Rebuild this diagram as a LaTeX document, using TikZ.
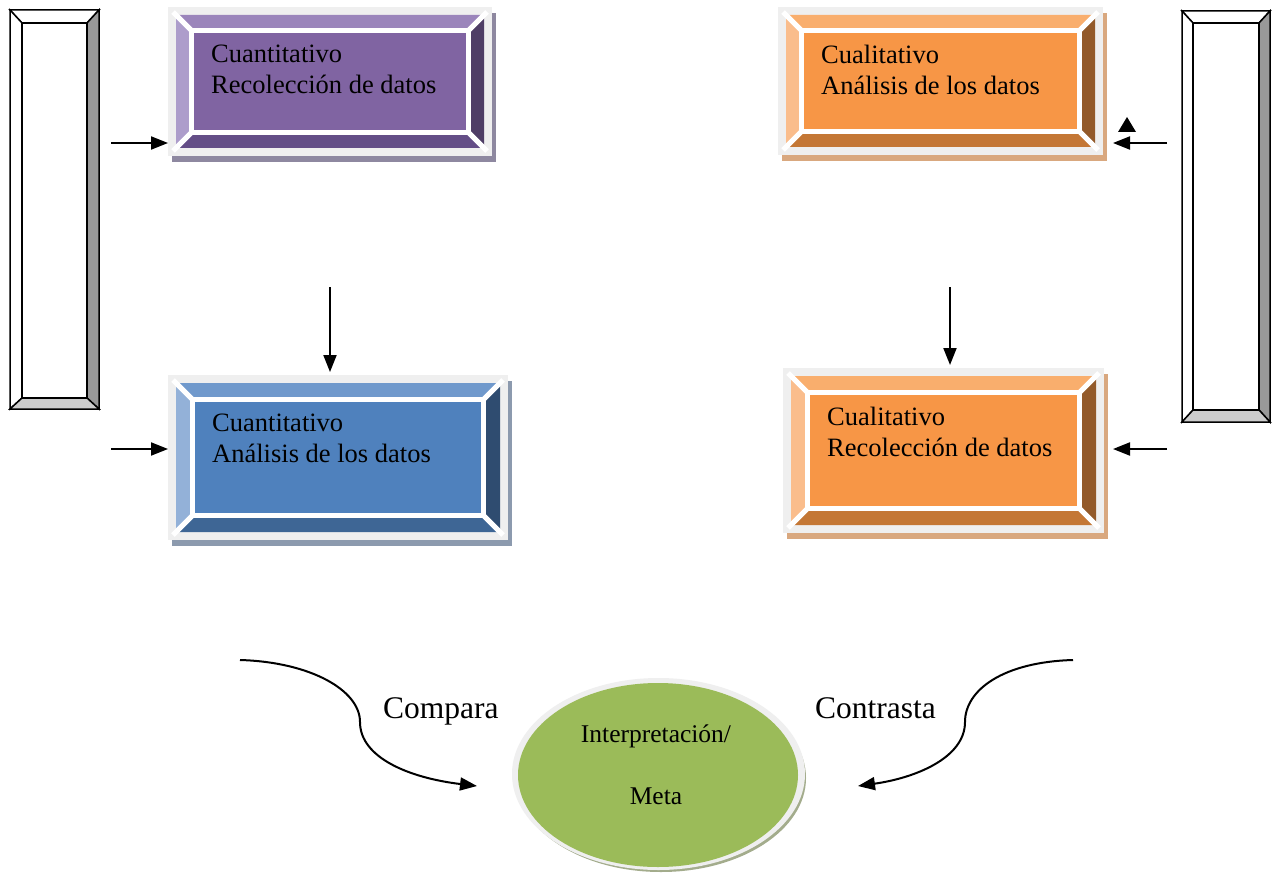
\documentclass[tikz,border=0pt]{standalone}
\usepackage{fontspec}
\setmainfont{Liberation Serif}
\usetikzlibrary{arrows.meta,shapes.geometric}

\definecolor{frameG}{HTML}{EFEFEF}
\definecolor{pTop}{HTML}{9B85BB}
\definecolor{pLeft}{HTML}{AD9DCB}
\definecolor{pFace}{HTML}{8064A2}
\definecolor{pRight}{HTML}{4F3E66}
\definecolor{pBottom}{HTML}{644E87}
\definecolor{pSh}{HTML}{8E88A0}
\definecolor{bTop}{HTML}{7099CC}
\definecolor{bLeft}{HTML}{93B1D8}
\definecolor{bFace}{HTML}{4F81BD}
\definecolor{bRight}{HTML}{2F4C70}
\definecolor{bBottom}{HTML}{3E6695}
\definecolor{bSh}{HTML}{8C9AAE}
\definecolor{oTop}{HTML}{F9AE6D}
\definecolor{oLeft}{HTML}{FABD8C}
\definecolor{oFace}{HTML}{F79646}
\definecolor{oRight}{HTML}{935A2A}
\definecolor{oBottom}{HTML}{C47735}
\definecolor{oSh}{HTML}{D9A87F}
\definecolor{gFace}{HTML}{9BBB59}
\definecolor{gSh}{HTML}{A3AC8C}
\definecolor{barGray}{HTML}{999999}
\definecolor{barLight}{HTML}{CCCCCC}

\newcommand{\bevbox}[8]{%
  \fill[#7Sh] ({#2+4},{#3+6}) rectangle ({#4+4},{#5+6});
  \fill[frameG] (#2,#3) rectangle (#4,#5);
  \fill[#7Top] ({#2+8},{#3+8}) -- ({#4-8},{#3+8}) -- ({#4-#6},{#3+#6}) -- ({#2+#6},{#3+#6}) -- cycle;
  \fill[#7Left] ({#2+8},{#3+8}) -- ({#2+#6},{#3+#6}) -- ({#2+#6},{#5-#6}) -- ({#2+8},{#5-8}) -- cycle;
  \fill[#7Right] ({#4-8},{#3+8}) -- ({#4-#6},{#3+#6}) -- ({#4-#6},{#5-#6}) -- ({#4-8},{#5-8}) -- cycle;
  \fill[#7Bottom] ({#2+8},{#5-8}) -- ({#4-8},{#5-8}) -- ({#4-#6},{#5-#6}) -- ({#2+#6},{#5-#6}) -- cycle;
  \draw[white, line width=5] ({#2+5},{#3+5}) -- ({#2+#6},{#3+#6})
        ({#4-5},{#3+5}) -- ({#4-#6},{#3+#6})
        ({#2+5},{#5-5}) -- ({#2+#6},{#5-#6})
        ({#4-5},{#5-5}) -- ({#4-#6},{#5-#6});
  \filldraw[fill=#7Face, draw=white, line width=5]
        ({#2+#6-2.5},{#3+#6-2.5}) rectangle ({#4-#6+2.5},{#5-#6+2.5});
  \node[boxshape, minimum width={#4-#2}, minimum height={#5-#3}] (#1) at ({(#2+#4)/2},{(#3+#5)/2}) {};
  \node[boxtext] (#1t) at ({#2+#6+17},{#3+#6+12}) {#8};
}

\begin{document}
\begin{tikzpicture}[x=1pt, y=-1pt,
  boxshape/.style={rectangle, inner sep=0pt, outer sep=0pt},
  boxtext/.style={anchor=north west, inner sep=0pt, align=left, font=\fontsize{26.5}{31}\selectfont},
  lbl/.style={inner sep=0pt, font=\fontsize{31.5}{36}\selectfont},
  arr/.style={line width=2pt, -{Triangle[length=17pt, width=13pt]}},
  barline/.style={draw=black, line width=1.5pt, line join=miter}
]
\useasboundingbox (0,0) rectangle (1274,880);
\fill[white] (0,0) rectangle (1274,880);

% side bars
\filldraw[barline, fill=white] (10,10) -- (99,10) -- (87,23) -- (22,23) -- cycle;
\filldraw[barline, fill=white] (10,10) -- (22,23) -- (22,398) -- (10,409) -- cycle;
\filldraw[barline, fill=barGray] (99,10) -- (87,23) -- (87,398) -- (99,409) -- cycle;
\filldraw[barline, fill=barLight] (10,409) -- (22,398) -- (87,398) -- (99,409) -- cycle;
\node[barline, rectangle, fill=white, minimum width=65, minimum height=375, inner sep=0pt] (lbar) at (54.5,210.5) {};

\filldraw[barline, fill=white] (1182,11) -- (1270,11) -- (1259,23) -- (1193,23) -- cycle;
\filldraw[barline, fill=white] (1182,11) -- (1193,23) -- (1193,410) -- (1182,422) -- cycle;
\filldraw[barline, fill=barGray] (1270,11) -- (1259,23) -- (1259,410) -- (1270,422) -- cycle;
\filldraw[barline, fill=barLight] (1182,422) -- (1193,410) -- (1259,410) -- (1270,422) -- cycle;
\node[barline, rectangle, fill=white, minimum width=66, minimum height=387, inner sep=0pt] (rbar) at (1226,216.5) {};

% boxes
\bevbox{qrec}{168}{7}{492}{156}{26}{p}{Cuantitativo\\Recolección de datos}
\bevbox{qana}{168}{375}{508}{540}{27}{b}{Cuantitativo\\Análisis de los datos}
\bevbox{lana}{778}{7}{1103}{155}{26}{o}{Cualitativo\\Análisis de los datos}
\bevbox{lrec}{783}{368}{1104}{533}{27}{o}{Cualitativo\\Recolección de datos}

% ellipse
\fill[gSh] (661,778) ellipse (145 and 94);
\fill[frameG] (658.5,774) ellipse (146.5 and 96);
\node[ellipse, fill=gFace, minimum width=280, minimum height=184, inner sep=0pt] (goal) at (658,775) {};
\node[inner sep=0pt, align=center, font=\fontsize{25.5}{62}\selectfont] (goalt) at (656,765) {Interpretación/\\Meta};

% straight arrows
\coordinate (s1) at (111,143);
\coordinate (s2) at (111,449);
\coordinate (s3) at (330,287);
\coordinate (s4) at (950,287);
\coordinate (s5) at (1167,143);
\coordinate (e5) at (1113,143);
\coordinate (s6) at (1167,449);
\coordinate (e6) at (1113,449);
\draw[arr] (s1) -- (s1 -| qrec.west);
\draw[arr] (s2) -- (s2 -| qana.west);
\draw[arr] (s3) -- ([yshift=3]s3 |- qana.north);
\draw[arr] (s4) -- ([yshift=3]s4 |- lrec.north);
\draw[arr] (s5) -- (e5);
\draw[arr] (s6) -- (e6);
% stray arrowhead
\coordinate (tipA) at (1127,117);
\fill (tipA) -- (1136,132) -- (1118,132) -- cycle;

% curved arrows
\coordinate (c1) at (240,660);
\coordinate (c2) at (1073,660);
\coordinate (t1) at (477,786);
\coordinate (t2) at (858,786);
\draw[arr] (c1) .. controls (310,662) and (360,690) .. (360,722)
  .. controls (360,758) and (410,778) .. (t1);
\draw[arr] (c2) .. controls (1003,662) and (965,690) .. (965,722)
  .. controls (965,758) and (915,778) .. (t2);

\node[lbl, anchor=base west] (cmp) at (383,718) {Compara};
\node[lbl, anchor=base west] (ctr) at (815,718) {Contrasta};
\end{tikzpicture}
\end{document}
